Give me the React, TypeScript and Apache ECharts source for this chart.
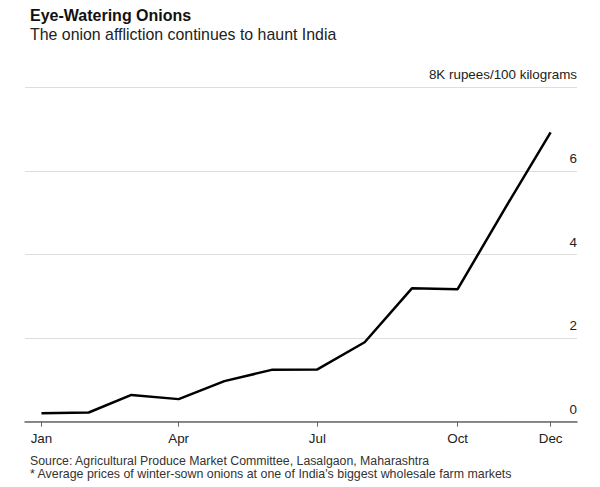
import React, { useEffect, useRef } from "react";
import * as echarts from "echarts";

const dates = [
  "2019-01-01", "2019-02-01", "2019-03-01", "2019-04-01", "2019-05-01", "2019-06-01",
  "2019-07-01", "2019-08-01", "2019-09-01", "2019-10-01", "2019-11-01", "2019-12-01",
];
const prices = [0.2, 0.22, 0.64, 0.54, 0.97, 1.24, 1.25, 1.9, 3.19, 3.17, 5.1, 6.92];
const tickDates = ["2019-01-01", "2019-04-01", "2019-07-01", "2019-10-01", "2019-12-01"];
const tickLabels = ["Jan", "Apr", "Jul", "Oct", "Dec"];
const unitLabel = "8K rupees/100 kilograms";

const title = "Eye-Watering Onions";
const subtitle = "The onion affliction continues to haunt India";
const source = "Source: Agricultural Produce Market Committee, Lasalgaon, Maharashtra";
const footnote = "* Average prices of winter-sown onions at one of India's biggest wholesale farm markets";

const DAY = 86400000;
const base = Date.UTC(2019, 0, 1);
const toDay = (s: string) => {
  const [y, m, d] = s.split("-").map(Number);
  return (Date.UTC(y, m - 1, d) - base) / DAY;
};

export default function App() {
  const ref = useRef<HTMLDivElement>(null);
  useEffect(() => {
    document.body.style.margin = "0";
    const chart = echarts.init(ref.current!, null, { renderer: "svg" });
    const tickDays = tickDates.map(toDay);
    const font = "'Liberation Sans', Arial, sans-serif";
    chart.setOption({
      animation: false,
      backgroundColor: "#fff",
      textStyle: { fontFamily: font },
      title: [
        {
          text: title,
          left: 25,
          top: 2,
          textStyle: { fontSize: 16, fontWeight: "bold", color: "#111", fontFamily: font },
        },
        {
          text: subtitle,
          left: 25,
          top: 21,
          textStyle: { fontSize: 15.9, fontWeight: "normal", color: "#222", fontFamily: font },
        },
        {
          text: source,
          left: 25,
          top: 450,
          textStyle: { fontSize: 12.3, fontWeight: "normal", color: "#333", fontFamily: font },
        },
        {
          text: footnote,
          left: 25,
          top: 463,
          textStyle: { fontSize: 12.4, fontWeight: "normal", color: "#333", fontFamily: font },
        },
      ],
      grid: { left: 25, right: 23, top: 87.3, bottom: 65.3, containLabel: false },
      xAxis: {
        type: "value",
        min: -10.8,
        max: 351.3,
        splitLine: { show: false },
        axisLine: { show: true, lineStyle: { color: "#666", width: 1.5 } },
        axisTick: {
          show: true,
          customValues: tickDays,
          length: 5,
          inside: false,
          lineStyle: { color: "#666", width: 1 },
        },
        axisLabel: {
          customValues: tickDays,
          formatter: (v: number) => {
            const i = tickDays.findIndex((t) => Math.abs(t - v) < 0.01);
            return i >= 0 ? tickLabels[i] : "";
          },
          fontSize: 13.4,
          color: "#222",
          margin: 10,
          fontFamily: font,
        },
      },
      yAxis: {
        type: "value",
        position: "right",
        min: 0,
        max: 8,
        interval: 2,
        axisLine: { show: false },
        axisTick: { show: false },
        splitLine: { show: true, lineStyle: { color: "#ddd", width: 1 } },
        axisLabel: {
          inside: true,
          margin: 0,
          fontSize: 13.4,
          color: "#222",
          verticalAlign: "bottom",
          padding: [0, 0, 6, 0],
          fontFamily: font,
          formatter: (v: number) => (v === 8 ? unitLabel : String(v)),
        },
      },
      series: [
        {
          type: "line",
          data: dates.map((d, i) => [toDay(d), prices[i]]),
          showSymbol: false,
          lineStyle: { color: "#000", width: 2.5 },
          silent: true,
        },
      ],
    });
    return () => chart.dispose();
  }, []);
  return <div ref={ref} style={{ width: 600, height: 487 }} />;
}
